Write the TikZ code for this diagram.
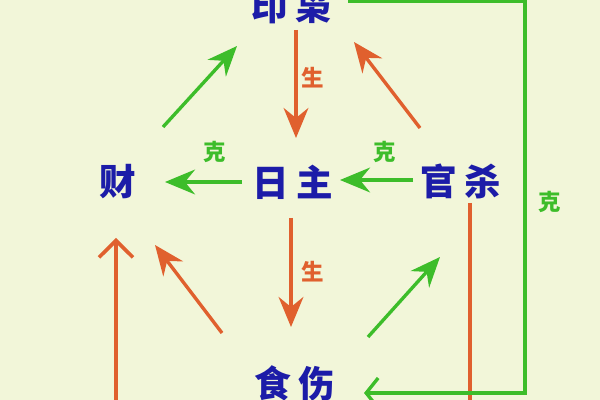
\documentclass[tikz,border=0pt]{standalone}
\usepackage{fontspec}
\newfontfamily\cjk{Noto Sans CJK SC}
\usetikzlibrary{arrows.meta}
\definecolor{bgc}{HTML}{F2F6D9}
\definecolor{gr}{HTML}{3DBD2A}
\definecolor{orc}{HTML}{E0602E}
\definecolor{bl}{HTML}{1C1CA8}
\begin{document}
\begin{tikzpicture}[x=0.025cm,y=-0.025cm,
  term/.style={font=\cjk\bfseries\fontsize{26}{26}\selectfont, text=bl, inner sep=0pt},
  lab/.style={font=\cjk\bfseries\fontsize{16}{16}\selectfont, inner sep=0pt},
  arr/.style={line width=2.4pt, -{Stealth[length=0.75cm,width=0.62cm,inset=0.25cm]}},
  lne/.style={line width=2.2pt},
  barbL/.style={line width=2.2pt, -{Straight Barb[length=0.42cm,width=0.85cm,line width=2.6pt]}},
  barbG/.style={line width=2.2pt, -{Straight Barb[length=0.3cm,width=0.75cm,line width=2.4pt]}}]
\useasboundingbox (0,0) rectangle (600,400);
\fill[bgc] (0,0) rectangle (600,400);
% terms
\node[term] (yin) at (292,7) {印\hspace{5pt}枭};
\node[term] (cai) at (118,182) {财};
\node[term] (ri) at (293,182) {日\hspace{5pt}主};
\node[term] (guan) at (461,181) {官\hspace{5pt}杀};
\node[term] (shi) at (295,383) {食\hspace{5pt}伤};
% labels
\node[lab, text=orc] (s1) at (313,78) {生};
\node[lab, text=orc] (s2) at (313,272) {生};
\node[lab, text=gr] (k1) at (215,152) {克};
\node[lab, text=gr] (k2) at (385,152) {克};
\node[lab, text=gr] (k3) at (550,202) {克};
% coordinates
\coordinate (a1s) at (163,127); \coordinate (a1e) at (237,46);
\coordinate (a2s) at (296,30);  \coordinate (a2e) at (296,138);
\coordinate (a3s) at (420,128); \coordinate (a3e) at (354,42);
\coordinate (a4s) at (242,182); \coordinate (a4e) at (165,182);
\coordinate (a5s) at (413,180); \coordinate (a5e) at (340,180);
\coordinate (a6s) at (291,218); \coordinate (a6e) at (291,327);
\coordinate (a7s) at (222,333); \coordinate (a7e) at (155,245);
\coordinate (a8s) at (368,337); \coordinate (a8e) at (440,257);
\coordinate (a9s) at (116,405); \coordinate (a9e) at (116,238);
\coordinate (b1s) at (470,203); \coordinate (b1e) at (470,405);
\coordinate (g1) at (348,1.5); \coordinate (g2) at (525,1.5);
\coordinate (g3) at (525,393); \coordinate (g4) at (364,393);
% arrows
\draw[arr, gr] (a1s) -- (a1e);
\draw[arr, orc] (a2s) -- (a2e);
\draw[arr, orc] (a3s) -- (a3e);
\draw[arr, gr] (a4s) -- (a4e);
\draw[arr, gr] (a5s) -- (a5e);
\draw[arr, orc] (a6s) -- (a6e);
\draw[arr, orc] (a7s) -- (a7e);
\draw[arr, gr] (a8s) -- (a8e);
\draw[barbL, orc] (a9s) -- (a9e);
\draw[lne, orc] (b1s) -- (b1e);
\draw[barbG, gr, line join=miter] (g1) -- (g2) -- (g3) -- (g4);
\end{tikzpicture}
\end{document}
